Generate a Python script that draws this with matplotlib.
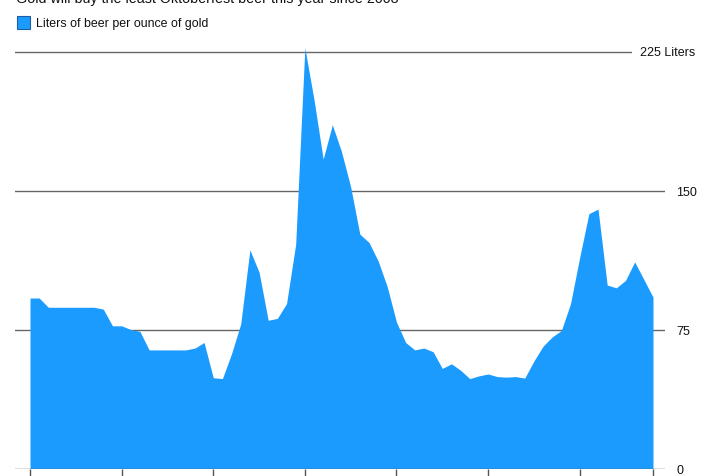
import numpy as np
import matplotlib
matplotlib.use('Agg')
import matplotlib.pyplot as plt
from matplotlib.patches import Rectangle

plt.rcParams['font.family'] = ['Liberation Sans', 'DejaVu Sans']

years = np.arange(1950, 2019)
liters = [92, 92, 87, 87, 87, 87, 87, 87, 86, 77,
          77, 75, 74, 64, 64, 64, 64, 64, 65, 68,
          49, 48.5, 62, 78, 118, 106, 80, 81, 89, 121,
          227, 199, 167, 185.5, 171, 152, 126.5, 122, 112, 98,
          79, 68, 64, 65, 63, 54, 56.5, 53, 48.5, 50,
          51, 49.6, 49.3, 49.6, 48.8, 58, 66, 71, 74.5, 89,
          114, 137.5, 140, 99, 97.5, 101.5, 111.5, 102, 92.5]
grid_vals = [75, 150, 225]
xticks = [1950, 1960, 1970, 1980, 1990, 2000, 2010, 2018]

fig = plt.figure(figsize=(7.15, 4.77), dpi=100)
ax = fig.add_axes([15/715, 7.5/477, 650/715, 423/477])

ax.fill_between(years, liters, 0, color='#1c9bff', linewidth=0, zorder=2)

for v in grid_vals:
    ax.axhline(v, color='#666666', linewidth=1, zorder=1)
ax.axhline(0, color='#555555', linewidth=1, zorder=3)

x0 = 1950 - 15/9.16
x1 = 2018 + 12/9.16
ax.set_xlim(x0, x1)
ax.set_ylim(0, 423/1.853)

for s in ax.spines.values():
    s.set_visible(False)

ax.set_xticks(xticks)
ax.set_xticklabels([])
ax.tick_params(axis='x', direction='out', length=6, width=1, color='#555555')

ax.yaxis.tick_right()
ax.set_yticks([0, 75, 150])
ax.set_yticklabels(['0', '75', '150'])
ax.tick_params(axis='y', length=0, pad=8, labelsize=9, labelcolor='#111111')

# gap in the 225 gridline for its label
ax.add_patch(Rectangle((2015.7, 218), 4.0, 14, facecolor='white', edgecolor='none', zorder=1.5, clip_on=False))
ax.text(2016.6, 225, '225 Liters', va='center', ha='left', fontsize=9, color='#111111', zorder=4, clip_on=False)

fig.text(16/715, 1 - 3/477, 'Gold will buy the least Oktoberfest beer this year since 2008',
         fontsize=10.3, color='#111111', va='baseline', ha='left')

fig.patches.append(Rectangle((17/715, 1 - 30/477), 13/715, 13/477, transform=fig.transFigure,
                             facecolor='#1c9bff', edgecolor='#1f5f9f', linewidth=0.8))
fig.text(36/715, 1 - 24/477, 'Liters of beer per ounce of gold', fontsize=8.9,
         color='#111111', va='center', ha='left')

fig.savefig('out.png', dpi=100)
